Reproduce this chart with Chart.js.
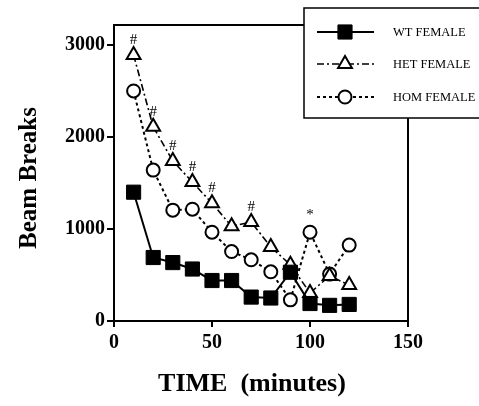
<!DOCTYPE html>
<html>
<head>
<meta charset="utf-8">
<script src="https://cdn.jsdelivr.net/npm/chart.js@4.4.1/dist/chart.umd.min.js"></script>
<style>
  html, body { margin: 0; padding: 0; background: #fff; }
  #wrap { width: 479px; height: 406px; }
</style>
</head>
<body>
<div id="wrap"><canvas id="grafiek"></canvas></div>
<script>
// data
var tijden = [10, 20, 30, 40, 50, 60, 70, 80, 90, 100, 110, 120];
var wtFemale = [1400, 690, 635, 565, 440, 440, 260, 250, 530, 190, 170, 180];
var hetFemale = [2890, 2110, 1740, 1510, 1280, 1030, 1075, 805, 610, 305, 490, 390];
var homFemale = [2500, 1640, 1205, 1215, 965, 755, 665, 535, 230, 965, 510, 825];
var xTicks = [0, 50, 100, 150];
var yTicks = [0, 1000, 2000, 3000];
var legendLabels = ['WT FEMALE', 'HET FEMALE', 'HOM FEMALE'];
var hekjes = [0, 1, 2, 3, 4, 6];   // '#' boven HET
var sterren = [9];                 // '*' boven HOM

Chart.defaults.color = '#000';
Chart.defaults.font.family = '"Liberation Serif", "Times New Roman", serif';

var reeksen = [
  { label: legendLabels[0], data: wtFemale, pointStyle: 'rect', pointRadius: 10,
    borderColor: '#000', backgroundColor: '#000', borderWidth: 2, borderDash: [],
    pointBackgroundColor: '#000', pointBorderWidth: 1 },
  { label: legendLabels[1], data: hetFemale, pointStyle: 'triangle', pointRadius: 8,
    borderColor: '#000', backgroundColor: '#fff', borderWidth: 1.6, borderDash: [7, 3, 2, 3],
    pointBackgroundColor: '#fff', pointBorderWidth: 2 },
  { label: legendLabels[2], data: homFemale, pointStyle: 'circle', pointRadius: 6.5,
    borderColor: '#000', backgroundColor: '#fff', borderWidth: 2, borderDash: [3, 3],
    pointBackgroundColor: '#fff', pointBorderWidth: 2 }
];

// kader, hekjes, assentitels en legenda
var extras = {
  id: 'extras',
  afterDatasetsDraw: function(chart) {
    var ctx = chart.ctx, xs = chart.scales.x, ys = chart.scales.y;
    ctx.save();
    ctx.fillStyle = '#000';
    ctx.textAlign = 'center';
    ctx.textBaseline = 'middle';
    ctx.font = '15px "Liberation Serif"';
    hekjes.forEach(function(i) {
      ctx.fillText('#', xs.getPixelForValue(tijden[i]), ys.getPixelForValue(hetFemale[i]) - 15);
    });
    sterren.forEach(function(i) {
      ctx.fillText('*', xs.getPixelForValue(tijden[i]), ys.getPixelForValue(homFemale[i]) - 17);
    });
    ctx.restore();
  },
  afterDraw: function(chart) {
    var ctx = chart.ctx, a = chart.chartArea;
    ctx.save();
    // bovenste en rechter kaderlijn
    ctx.strokeStyle = '#000';
    ctx.lineWidth = 2;
    ctx.beginPath();
    ctx.moveTo(a.left, a.top);
    ctx.lineTo(a.right, a.top);
    ctx.lineTo(a.right, a.bottom);
    ctx.stroke();

    // assentitels
    ctx.fillStyle = '#000';
    ctx.textAlign = 'center';
    ctx.textBaseline = 'middle';
    ctx.font = 'bold 26px "Liberation Serif"';
    ctx.fillText('TIME  (minutes)', 252, 384);
    ctx.save();
    ctx.translate(30, 178);
    ctx.rotate(-Math.PI / 2);
    ctx.font = 'bold 25px "Liberation Serif"';
    ctx.fillText('Beam Breaks', 0, 0);
    ctx.restore();

    // legenda
    ctx.fillStyle = '#fff';
    ctx.fillRect(304, 8, 200, 110);
    ctx.strokeStyle = '#000';
    ctx.lineWidth = 1.5;
    ctx.strokeRect(304, 8, 200, 110);
    var rijen = [32, 64, 97];
    reeksen.forEach(function(r, i) {
      var y = rijen[i];
      ctx.save();
      ctx.strokeStyle = '#000';
      ctx.lineWidth = r.borderWidth;
      ctx.setLineDash(r.borderDash);
      ctx.beginPath();
      ctx.moveTo(317, y);
      ctx.lineTo(374, y);
      ctx.stroke();
      ctx.setLineDash([]);
      ctx.fillStyle = r.pointBackgroundColor;
      ctx.lineWidth = r.pointBorderWidth;
      Chart.helpers.drawPoint(ctx, {
        pointStyle: r.pointStyle, radius: r.pointRadius, rotation: 0,
        borderWidth: r.pointBorderWidth
      }, 345, y);
      ctx.restore();
      ctx.fillStyle = '#000';
      ctx.textAlign = 'left';
      ctx.font = '12.5px "Liberation Serif"';
      ctx.fillText(r.label, 393, y + 1);
    });
    ctx.restore();
  }
};

function grafiek() {
  var ctx = document.getElementById('grafiek');
  new Chart(ctx, {
    type: 'line',
    data: {
      labels: tijden,
      datasets: reeksen.map(function(r) {
        return {
          label: r.label,
          data: r.data.map(function(v, i) { return { x: tijden[i], y: v }; }),
          borderColor: r.borderColor,
          backgroundColor: r.backgroundColor,
          borderWidth: r.borderWidth,
          borderDash: r.borderDash,
          pointStyle: r.pointStyle,
          pointRadius: r.pointRadius,
          pointBackgroundColor: r.pointBackgroundColor,
          pointBorderColor: '#000',
          pointBorderWidth: r.pointBorderWidth,
          tension: 0,
          fill: false
        };
      })
    },
    options: {
      responsive: true,
      maintainAspectRatio: false,
      animation: false,
      layout: { padding: { top: 25, right: 71, left: 0, bottom: 0 } },
      plugins: { legend: { display: false }, tooltip: { enabled: false } },
      scales: {
        x: {
          type: 'linear', min: 0, max: 150,
          afterBuildTicks: function(s) { s.ticks = xTicks.map(function(v) { return { value: v }; }); },
          afterFit: function(s) { s.height = 85; },
          grid: { drawOnChartArea: false, drawTicks: true, tickLength: 6, color: '#000', lineWidth: 2 },
          border: { display: true, color: '#000', width: 2 },
          ticks: { font: { size: 20, weight: 'bold' }, padding: 4, maxRotation: 0,
                   callback: function(v) { return String(v); } }
        },
        y: {
          type: 'linear', min: 0, max: 3217,
          afterBuildTicks: function(s) { s.ticks = yTicks.map(function(v) { return { value: v }; }); },
          afterFit: function(s) { s.width = 114; },
          grid: { drawOnChartArea: false, drawTicks: true, tickLength: 7, color: '#000', lineWidth: 2 },
          border: { display: true, color: '#000', width: 2 },
          ticks: { font: { size: 20, weight: 'bold' }, padding: 2,
                   callback: function(v) { return String(v); } }
        }
      }
    },
    plugins: [extras]
  });
}

window.onload = function() {
  grafiek();
};
</script>
</body>
</html>
